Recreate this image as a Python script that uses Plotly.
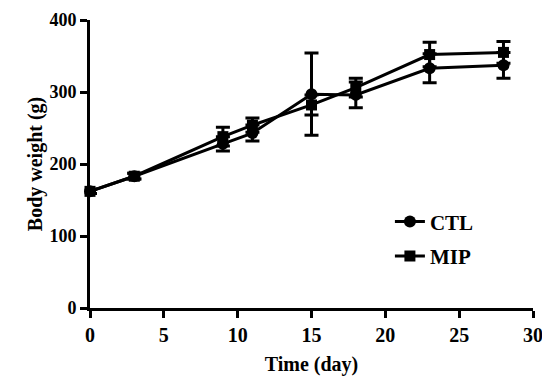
import plotly.graph_objects as go

days = [0, 3, 9, 11, 15, 18, 23, 28]
ctl_mean = [162, 183, 228, 243, 297, 296, 333, 337]
ctl_err = [3, 4, 10, 11, 57, 18, 20, 18]
mip_mean = [162, 183, 238, 254, 282, 306, 352, 355]
mip_err = [3, 4, 13, 10, 14, 13, 17, 15]

x_ticks = [0, 5, 10, 15, 20, 25, 30]
y_ticks = [0, 100, 200, 300, 400]

font_family = "Liberation Serif, Times New Roman, serif"

fig = go.Figure()
fig.add_trace(go.Scatter(
    x=days, y=ctl_mean, name="<b>CTL</b>", mode="lines+markers",
    legendgroup="a",
    line=dict(color="black", width=3),
    marker=dict(symbol="circle", size=12, color="black"),
    error_y=dict(type="data", array=ctl_err, color="black", thickness=3, width=7),
    cliponaxis=False,
))
fig.add_trace(go.Scatter(
    x=days, y=mip_mean, name="<b>MIP</b>", mode="lines+markers",
    legendgroup="b",
    line=dict(color="black", width=3),
    marker=dict(symbol="square", size=11, color="black"),
    error_y=dict(type="data", array=mip_err, color="black", thickness=3, width=7),
    cliponaxis=False,
))

fig.update_layout(
    width=542, height=374,
    margin=dict(l=82, r=17, t=12, b=74, autoexpand=False),
    plot_bgcolor="white", paper_bgcolor="white",
    font=dict(family=font_family, size=20, color="black"),
    legend=dict(x=0.677, y=0.37, xanchor="left", yanchor="top",
                bgcolor="rgba(0,0,0,0)", font=dict(size=21),
                tracegroupgap=4),
    showlegend=True,
)
fig.update_xaxes(
    range=[0, 30], tickvals=x_ticks, ticktext=[f"<b>{v}</b>" for v in x_ticks],
    showline=True, linecolor="black", linewidth=3,
    ticks="outside", ticklen=7, tickwidth=3, tickcolor="black",
    showgrid=False, zeroline=False, automargin=False,
    ticklabeloverflow="allow",
    tickfont=dict(size=20),
    title=dict(text="<b>Time (day)</b>", font=dict(size=20), standoff=12),
)
fig.update_yaxes(
    range=[0, 400], tickvals=y_ticks, ticktext=[f"<b>{v}</b>" for v in y_ticks],
    showline=True, linecolor="black", linewidth=3,
    ticks="outside", ticklen=7, tickwidth=3, tickcolor="black",
    showgrid=False, zeroline=False, automargin=False,
    ticklabeloverflow="allow",
    tickfont=dict(size=18),
    title=dict(text="<b>Body weight (g)</b>", font=dict(size=20), standoff=2),
)

fig.write_html("out.html")
